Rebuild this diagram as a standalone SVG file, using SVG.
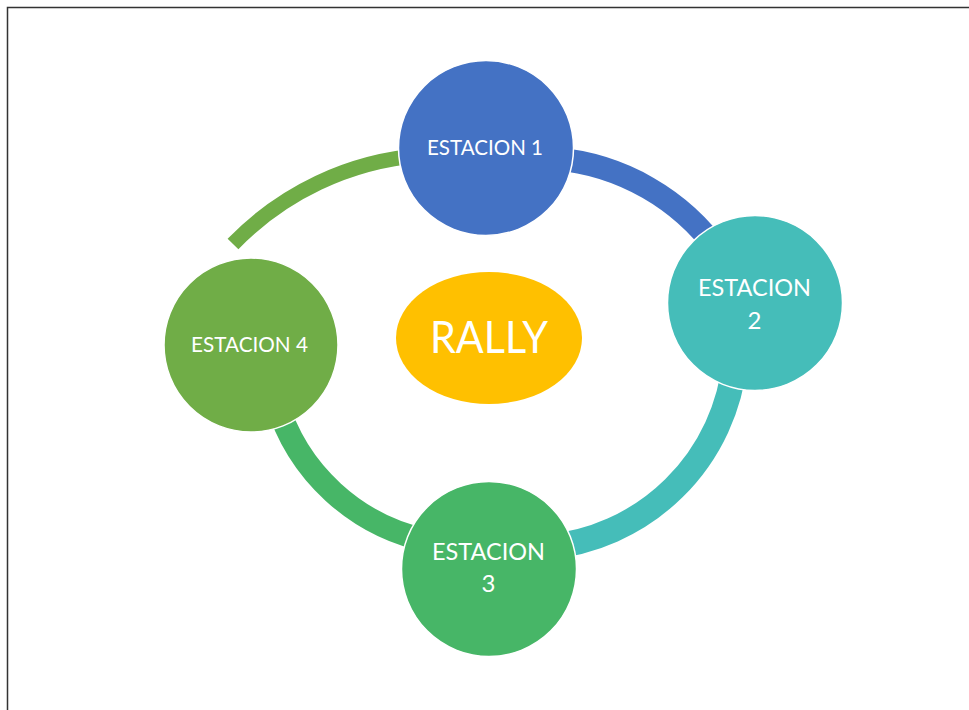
<svg xmlns="http://www.w3.org/2000/svg" width="969" height="710" viewBox="0 0 969 710">
<style>
.arc{fill:none;stroke-linecap:butt}
.node{stroke:#ffffff;stroke-width:1.5}
.lbl{font-family:Lato,"Open Sans","Liberation Sans",sans-serif;fill:#ffffff;text-anchor:middle}
</style>
<rect x="0" y="0" width="969" height="710" fill="#ffffff"/>
<rect x="7.5" y="7.5" width="990" height="730" fill="#ffffff" stroke="#333333" stroke-width="1.5"/>
<g id="connectors">
<path class="arc" d="M555,158.8 A225,225 0 0 1 720,253.5" stroke="#4472C4" stroke-width="23"/>
<path class="arc" d="M735,360 A208,208 0 0 1 545,547.3" stroke="#45BDB9" stroke-width="25"/>
<path class="arc" d="M430,541.2 A201,201 0 0 1 276,400" stroke="#47B667" stroke-width="23"/>
<path class="arc" d="M233,244 A293.5,293.5 0 0 1 420,155.5" stroke="#70AD47" stroke-width="15"/>
</g>
<g id="center">
<ellipse cx="489" cy="338" rx="93" ry="66" fill="#FFC000"/>
<text class="lbl" x="489" y="353" font-size="44" textLength="118" lengthAdjust="spacingAndGlyphs">RALLY</text>
</g>
<g id="estacion1">
<circle class="node" cx="486" cy="148" r="87.5" fill="#4472C4"/>
<text class="lbl" x="485" y="155" font-size="21" textLength="116" lengthAdjust="spacingAndGlyphs">ESTACION 1</text>
</g>
<g id="estacion2">
<circle class="node" cx="755" cy="303" r="87.5" fill="#45BDB9"/>
<text class="lbl" x="754.5" y="296" font-size="24" textLength="113" lengthAdjust="spacingAndGlyphs">ESTACION</text>
<text class="lbl" x="754.5" y="329" font-size="24">2</text>
</g>
<g id="estacion3">
<circle class="node" cx="489" cy="569" r="87.5" fill="#47B667"/>
<text class="lbl" x="488.5" y="560" font-size="24" textLength="113" lengthAdjust="spacingAndGlyphs">ESTACION</text>
<text class="lbl" x="488.5" y="592" font-size="24">3</text>
</g>
<g id="estacion4">
<circle class="node" cx="251" cy="345" r="87" fill="#70AD47"/>
<text class="lbl" x="249.5" y="352" font-size="21" textLength="117" lengthAdjust="spacingAndGlyphs">ESTACION 4</text>
</g>
</svg>
